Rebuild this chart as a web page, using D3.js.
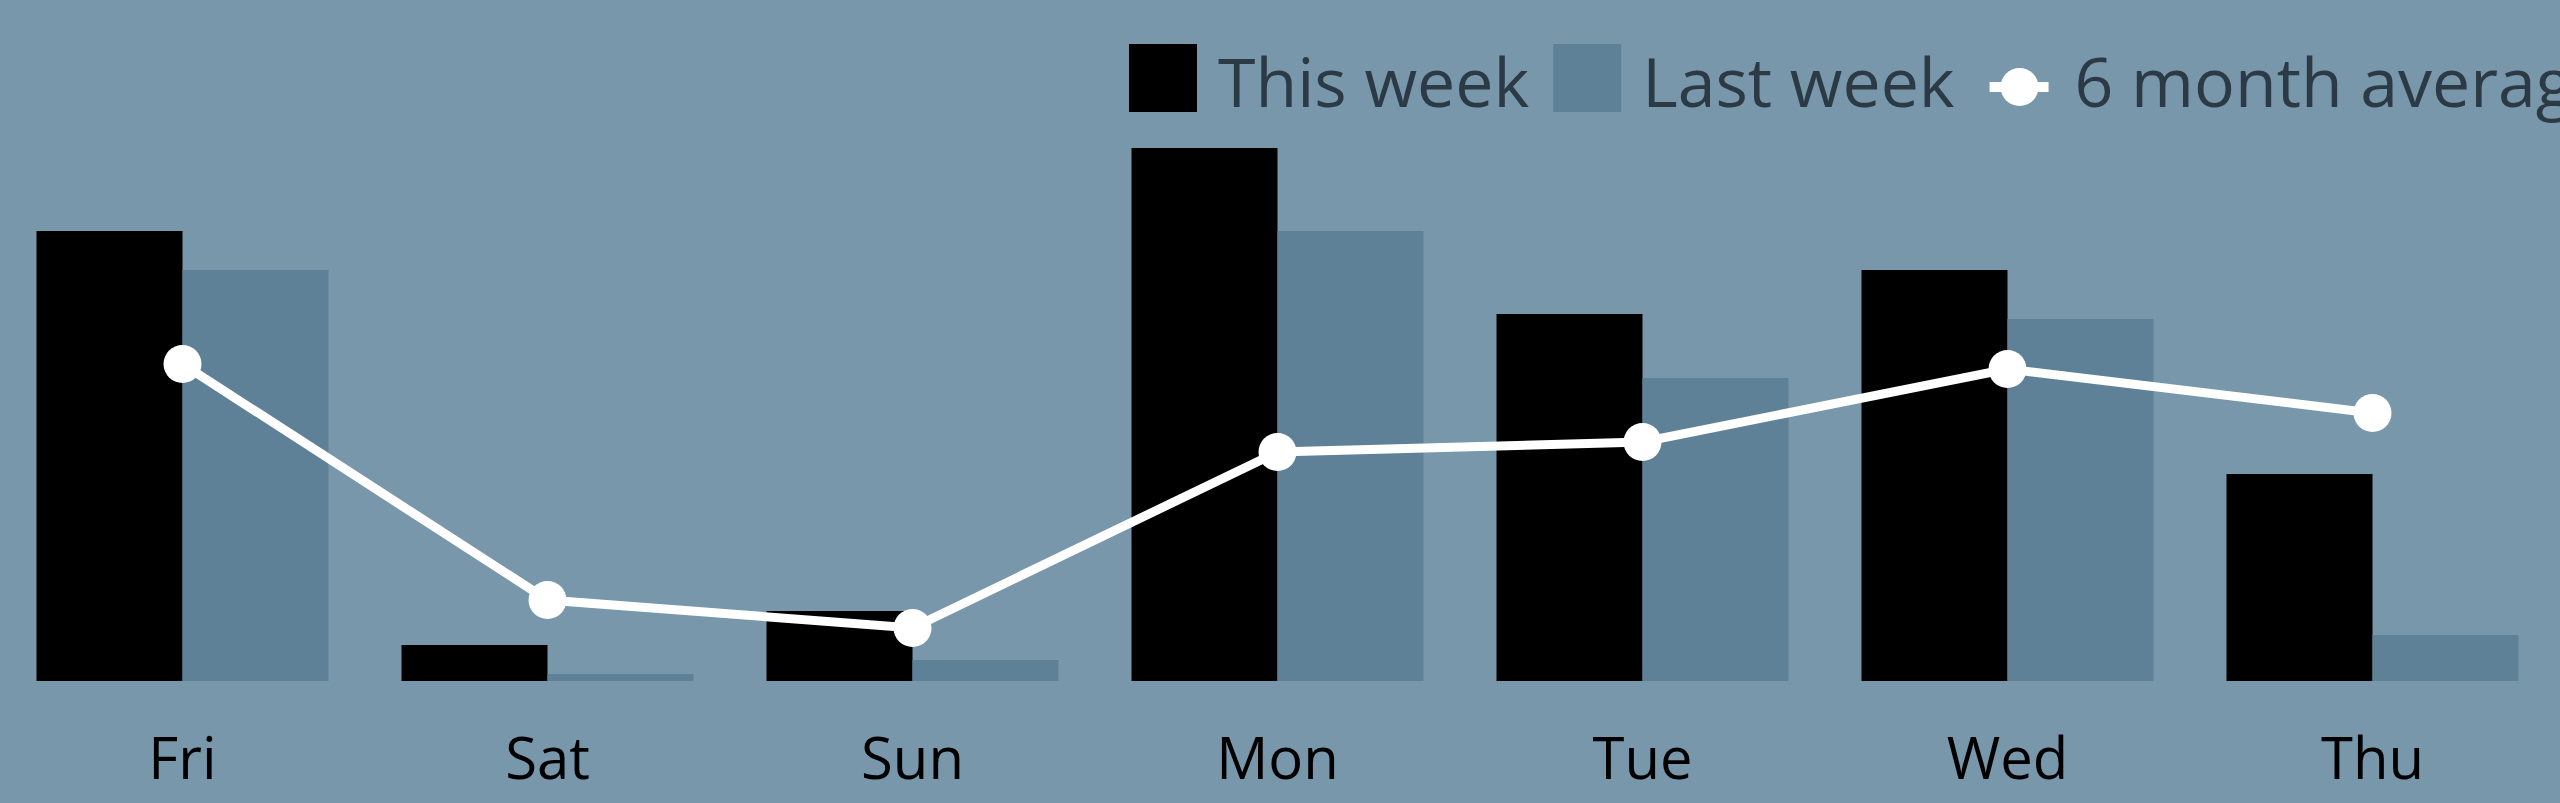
<!DOCTYPE html>
<html>
<head>
<meta charset="utf-8">
<script src="https://cdn.jsdelivr.net/npm/d3@7"></script>
<style>
  html, body { margin: 0; padding: 0; background: #7897ab; }
  svg { display: block; }
  text { font-family: "Open Sans", "Noto Sans", sans-serif; }
</style>
</head>
<body>
<svg id="chart" width="2560" height="803"></svg>
<script>
const days = ["Fri", "Sat", "Sun", "Mon", "Tue", "Wed", "Thu"];
const thisWeek = [45.0, 3.6, 7.0, 53.3, 36.7, 41.1, 20.7];
const lastWeek = [41.1, 0.7, 2.1, 45.0, 30.3, 36.2, 4.6];
const sixMonthAvg = [31.7, 8.1, 5.3, 22.9, 23.9, 31.2, 26.8];
const seriesNames = ["This week", "Last week", "6 month average"];

const W = 2560, H = 803;
const colBg = "#7897ab", colThis = "#000000", colLast = "#5e8197", colAvg = "#ffffff";
const svg = d3.select("#chart");
svg.append("rect").attr("width", W).attr("height", H).attr("fill", colBg);

const x = d3.scaleBand().domain(days).range([0, 2555]).paddingInner(0.2).paddingOuter(0.1);
const x1 = d3.scaleBand().domain(["this", "last"]).range([0, x.bandwidth()]);
const y = d3.scaleLinear().domain([0, 60]).range([681, 81]);

const g = svg.append("g");
const groups = g.selectAll("g.day").data(days).join("g")
  .attr("transform", d => `translate(${x(d)},0)`);

groups.append("rect")
  .attr("x", x1("this")).attr("width", x1.bandwidth())
  .attr("y", (d, i) => y(thisWeek[i])).attr("height", (d, i) => y(0) - y(thisWeek[i]))
  .attr("fill", colThis);
groups.append("rect")
  .attr("x", x1("last")).attr("width", x1.bandwidth())
  .attr("y", (d, i) => y(lastWeek[i])).attr("height", (d, i) => y(0) - y(lastWeek[i]))
  .attr("fill", colLast);

const cx = d => x(d) + x.bandwidth() / 2;
const line = d3.line().x((d, i) => cx(days[i])).y(d => y(d));
g.append("path").datum(sixMonthAvg).attr("d", line)
  .attr("fill", "none").attr("stroke", colAvg).attr("stroke-width", 9);
g.selectAll("circle.pt").data(sixMonthAvg).join("circle")
  .attr("cx", (d, i) => cx(days[i])).attr("cy", d => y(d)).attr("r", 19)
  .attr("fill", colAvg);

// x axis labels
const xAxis = d3.axisBottom(x).tickSize(0).tickPadding(0);
const ax = svg.append("g").attr("transform", "translate(0,725)").call(xAxis);
ax.select(".domain").remove();
ax.selectAll("text").attr("font-size", 58).attr("fill", "#000")
  .attr("font-family", "'Open Sans', 'Noto Sans', sans-serif")
  .attr("dy", "0.93em");

// legend
const leg = svg.append("g");
let lx = 1129;
const ly = 44, sq = 68;
seriesNames.forEach((name, i) => {
  let tx;
  if (i < 2) {
    leg.append("rect").attr("x", lx).attr("y", ly).attr("width", sq).attr("height", sq)
      .attr("fill", i === 0 ? colThis : colLast);
    tx = lx + sq + 21;
  } else {
    leg.append("line").attr("x1", lx + 11).attr("x2", lx + 70).attr("y1", ly + 43).attr("y2", ly + 43)
      .attr("stroke", colAvg).attr("stroke-width", 10);
    leg.append("circle").attr("cx", lx + 41).attr("cy", ly + 43).attr("r", 19).attr("fill", colAvg);
    tx = lx + 96;
  }
  const t = leg.append("text").attr("x", tx).attr("y", 107)
    .attr("font-size", 68).attr("fill", "#2b3a45").text(name);
  lx = tx + t.node().getComputedTextLength() + 24;
});
</script>
</body>
</html>
